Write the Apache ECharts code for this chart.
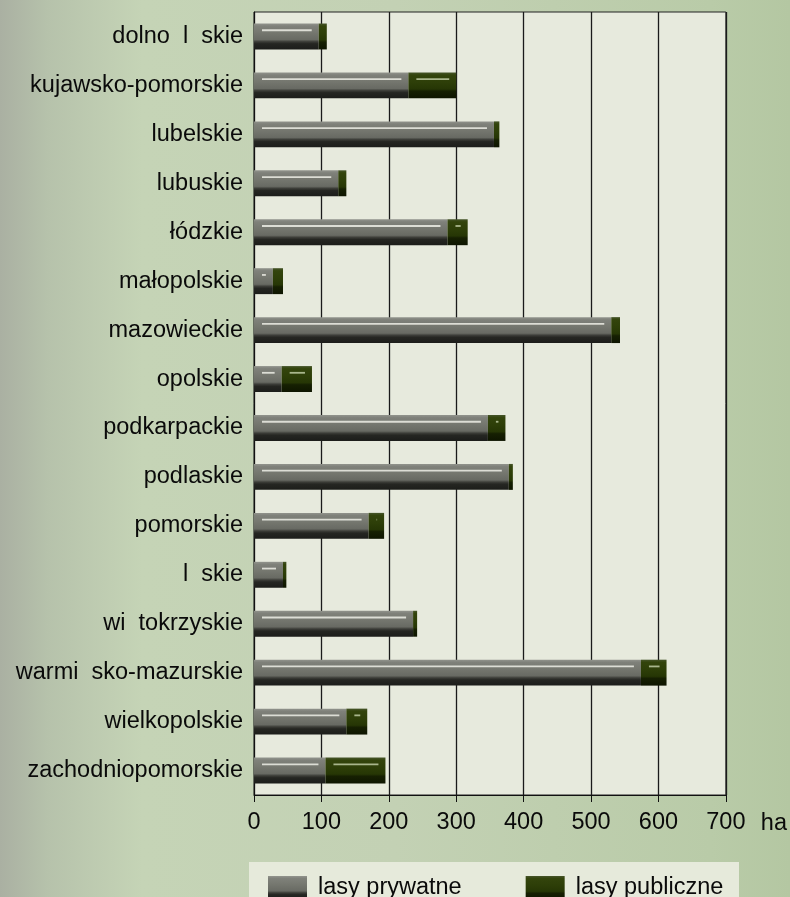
<!DOCTYPE html>
<html>
<head>
<meta charset="utf-8">
<script src="https://cdn.jsdelivr.net/npm/echarts@6/dist/echarts.min.js"></script>
<style>
html,body{margin:0;padding:0;}
#c{width:790px;height:897px;}
</style>
</head>
<body>
<div id="c"></div>
<script>
const categories = ['dolno  l  skie','kujawsko-pomorskie','lubelskie','lubuskie','łódzkie','małopolskie','mazowieckie','opolskie','podkarpackie','podlaskie','pomorskie','l  skie','wi  tokrzyskie','warmi  sko-mazurskie','wielkopolskie','zachodniopomorskie'];
const privateForests = [96, 229, 356, 125, 287, 28, 530, 41, 347, 378, 170, 43, 236, 574, 137, 106];
const publicForests  = [12, 71, 8, 12, 30, 15, 13, 45, 26, 6, 23, 5, 6, 38, 31, 89];
const xTicks = { min: 0, max: 700, interval: 100 };
const seriesNames = ['lasy prywatne', 'lasy publiczne'];

const FONT = 'Liberation Sans, Arial, sans-serif';
const privGrad = new echarts.graphic.LinearGradient(0,0,0,1,[
  {offset:0, color:'#92948d'},{offset:0.1, color:'#7f817a'},{offset:0.35, color:'#75776f'},
  {offset:0.62, color:'#686a63'},{offset:0.7, color:'#3c3d38'},{offset:0.78, color:'#252622'},{offset:1, color:'#1c1d1a'}]);
const pubGrad = new echarts.graphic.LinearGradient(0,0,0,1,[
  {offset:0, color:'#46552a'},{offset:0.1, color:'#33440c'},{offset:0.4, color:'#2d3e08'},
  {offset:0.64, color:'#263605'},{offset:0.72, color:'#162002'},{offset:1, color:'#0e1500'}]);

const privData = categories.map((c,i)=>[i, 0, privateForests[i]]);
const pubData = categories.map((c,i)=>[i, privateForests[i], privateForests[i] + publicForests[i]]);

function makeRender(fill, hl){
  return function(params, api){
    const ci = api.value(0);
    const p0 = api.coord([api.value(1), ci]);
    const p1 = api.coord([api.value(2), ci]);
    const band = api.size([0,1])[1];
    const h = band * 0.53;
    const y = p0[1] - h/2;
    const w = p1[0] - p0[0];
    const children = [{
      type:'rect',
      shape:{x:p0[0], y:y, width:w, height:h},
      style:{fill:fill}
    }];
    const inset = 7;
    if (w - 2*inset > 0.5) {
      children.push({
        type:'line',
        shape:{x1:p0[0]+inset+1, y1:y+h*0.26, x2:p1[0]-inset, y2:y+h*0.26},
        style:{stroke:hl, lineWidth:1.8}
      });
    }
    return {type:'group', children:children};
  };
}

const chart = echarts.init(document.getElementById('c'), null, {renderer:'canvas'});
chart.setOption({
  backgroundColor: new echarts.graphic.LinearGradient(0,0,1,0,[
    {offset:0, color:'#aab0a2'},{offset:0.06, color:'#b6c2ab'},{offset:0.18, color:'#c5d4b6'},
    {offset:0.5, color:'#c3d1b4'},{offset:0.9, color:'#b9cba8'},{offset:1, color:'#b4c7a2'}]),
  animation:false,
  graphic:[
    {type:'rect', left:249, top:862, shape:{width:490, height:40}, style:{fill:'#e6eadb'}, z:-5}
  ],
  grid:{left:254, right:61, top:12, bottom:102, show:true, backgroundColor:'#e7eadd', borderColor:'#222', borderWidth:1},
  legend:{
    data:[
      {name:seriesNames[0], icon:'rect', itemStyle:{color:privGrad}},
      {name:seriesNames[1], icon:'rect', itemStyle:{color:pubGrad}}
    ],
    left:263, top:871, itemWidth:39, itemHeight:24, itemGap:64,
    textStyle:{fontFamily:FONT, fontSize:23.5, color:'#0a0a0a', padding:[0,0,0,6]},
    selectedMode:false
  },
  xAxis:{
    type:'value', min:xTicks.min, max:xTicks.max, interval:xTicks.interval,
    name:'ha', nameLocation:'end', nameGap:35,
    nameTextStyle:{fontFamily:FONT, fontSize:23.5, color:'#0a0a0a', verticalAlign:'top', padding:[17,0,0,0]},
    axisLine:{show:true, lineStyle:{color:'#111', width:1}},
    axisTick:{show:true, length:7, lineStyle:{color:'#111'}},
    axisLabel:{fontFamily:FONT, fontSize:23.5, color:'#0a0a0a', margin:16},
    splitLine:{show:true, lineStyle:{color:'#1a1a1a', width:1.3}}
  },
  yAxis:{
    type:'category', data:categories, inverse:true,
    axisLine:{show:true, lineStyle:{color:'#111'}},
    axisTick:{show:false},
    axisLabel:{fontFamily:FONT, fontSize:23.5, color:'#0a0a0a', margin:11}
  },
  series:[
    {name:seriesNames[0], type:'custom', renderItem:makeRender(privGrad, '#dcddd5'), itemStyle:{color:privGrad},
     encode:{x:[1,2], y:0}, data:privData, z:5},
    {name:seriesNames[1], type:'custom', renderItem:makeRender(pubGrad, '#a9b68c'), itemStyle:{color:pubGrad},
     encode:{x:[1,2], y:0}, data:pubData, z:5}
  ]
});
</script>
</body>
</html>
